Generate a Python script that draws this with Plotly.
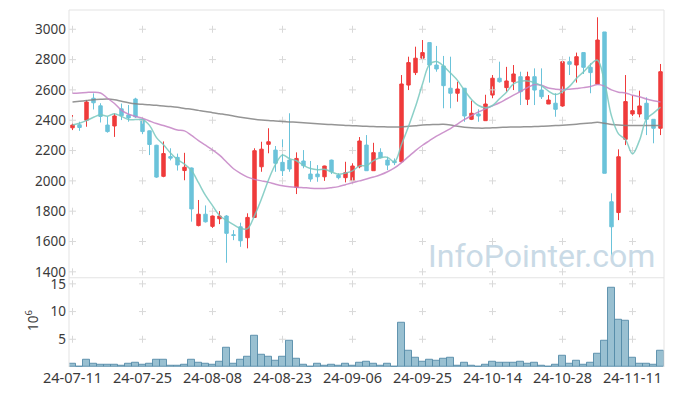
import plotly.graph_objects as go

dates = [
    "24-07-11", "24-07-12", "24-07-15", "24-07-16", "24-07-17", "24-07-18", "24-07-19",
    "24-07-22", "24-07-23", "24-07-24", "24-07-25", "24-07-26", "24-07-29", "24-07-30",
    "24-07-31", "24-08-01", "24-08-02", "24-08-05", "24-08-06", "24-08-07", "24-08-08",
    "24-08-09", "24-08-12", "24-08-13", "24-08-14", "24-08-16", "24-08-19", "24-08-20",
    "24-08-21", "24-08-22", "24-08-23", "24-08-26", "24-08-27", "24-08-28", "24-08-29",
    "24-08-30", "24-09-02", "24-09-03", "24-09-04", "24-09-05", "24-09-06", "24-09-09",
    "24-09-10", "24-09-11", "24-09-12", "24-09-13", "24-09-19", "24-09-20", "24-09-23",
    "24-09-24", "24-09-25", "24-09-26", "24-09-27", "24-09-30", "24-10-02", "24-10-04",
    "24-10-07", "24-10-08", "24-10-10", "24-10-11", "24-10-14", "24-10-15", "24-10-16",
    "24-10-17", "24-10-18", "24-10-21", "24-10-22", "24-10-23", "24-10-24", "24-10-25",
    "24-10-28", "24-10-29", "24-10-30", "24-10-31", "24-11-01", "24-11-04", "24-11-05",
    "24-11-06", "24-11-07", "24-11-08", "24-11-11", "24-11-12", "24-11-13", "24-11-14",
    "24-11-15",
]

opens = [
    2350, 2370, 2400, 2545, 2495, 2368, 2362, 2475, 2435, 2540,
    2405, 2330, 2235, 2030, 2160, 2155, 2068, 2085, 1705, 1780,
    1700, 1750, 1768, 1645, 1697, 1625, 1759, 2093, 2241, 2203,
    2122, 2137, 1957, 2131, 2045, 2045, 2027, 2137, 2038, 2021,
    2001, 2093, 2236, 2067, 2188, 2137, 2130, 2126, 2632, 2714,
    2809, 2912, 2764, 2758, 2611, 2578, 2611, 2406, 2441, 2397,
    2566, 2677, 2615, 2654, 2687, 2538, 2687, 2599, 2507, 2512,
    2494, 2786, 2764, 2846, 2749, 2639, 2982, 1862, 1791, 2274,
    2441, 2441, 2512, 2406, 2347,
]
highs = [
    2434, 2390, 2533, 2577, 2512, 2423, 2445, 2510, 2500, 2548,
    2410, 2332, 2238, 2260, 2215, 2180, 2185, 2088, 1874, 1838,
    1772, 1801, 1774, 1675, 1724, 1786, 2215, 2258, 2347, 2230,
    2274, 2446, 2188, 2203, 2131, 2104, 2100, 2140, 2050, 2126,
    2116, 2289, 2302, 2251, 2215, 2159, 2148, 2698, 2819, 2885,
    2929, 2912, 2890, 2824, 2819, 2654, 2611, 2529, 2472, 2568,
    2698, 2786, 2752, 2764, 2720, 2720, 2742, 2742, 2566, 2578,
    2819, 2819, 2846, 2846, 2776, 3079, 2982, 1918, 2208, 2698,
    2566, 2595, 2551, 2406, 2771,
]
lows = [
    2335, 2330, 2357, 2471, 2385, 2318, 2290, 2401, 2390, 2415,
    2308, 2170, 2020, 2024, 2135, 2068, 2004, 1731, 1700, 1725,
    1690, 1715, 1460, 1609, 1565, 1555, 1755, 2060, 2182, 2060,
    2032, 2060, 1913, 2083, 1994, 1994, 2000, 2045, 2010, 1990,
    1979, 2083, 2067, 2067, 2148, 2071, 2104, 2120, 2599, 2698,
    2802, 2648, 2720, 2479, 2479, 2522, 2390, 2401, 2390, 2397,
    2545, 2648, 2588, 2599, 2500, 2500, 2500, 2540, 2507, 2423,
    2489, 2698, 2648, 2705, 2578, 2639, 2050, 1489, 1741, 2236,
    2428, 2419, 2302, 2248, 2302,
]
closes = [
    2368, 2352, 2520, 2515, 2425, 2325, 2428, 2430, 2415, 2422,
    2325, 2240, 2025, 2180, 2150, 2105, 2090, 1815, 1780, 1730,
    1768, 1768, 1654, 1640, 1605, 1759, 2199, 2209, 2258, 2116,
    2067, 2078, 2148, 2100, 2012, 2027, 2098, 2060, 2021, 2054,
    2098, 2263, 2067, 2186, 2153, 2104, 2120, 2639, 2780, 2809,
    2846, 2764, 2738, 2628, 2578, 2606, 2428, 2446, 2428, 2507,
    2677, 2654, 2659, 2705, 2588, 2687, 2599, 2555, 2533, 2472,
    2786, 2769, 2819, 2749, 2714, 2929, 2050, 1697, 2159, 2523,
    2463, 2494, 2406, 2347, 2720,
]
# volume in millions of shares
volume_m = [
    0.6, 0.1, 1.3, 0.6, 0.4, 0.4, 0.4, 0.25, 0.6, 0.8,
    0.4, 0.6, 1.3, 1.3, 0.25, 0.25, 0.4, 1.3, 0.8, 0.6,
    0.4, 1.0, 3.45, 0.6, 1.3, 1.85, 5.6, 2.2, 1.85, 1.15,
    1.85, 4.7, 1.5, 0.4, 0.1, 0.6, 0.25, 0.4, 0.25, 0.6,
    0.25, 0.8, 1.0, 0.6, 0.25, 0.6, 0.1, 7.9, 2.9, 1.65,
    0.95, 1.3, 1.15, 1.5, 1.65, 0.25, 0.8, 0.25, 0.06, 0.4,
    0.95, 0.8, 0.8, 0.8, 0.95, 0.6, 0.8, 0.25, 0.06, 0.4,
    2.0, 0.6, 1.15, 0.4, 0.8, 2.4, 4.7, 14.3, 8.6, 8.3,
    1.65, 0.6, 0.6, 0.4, 2.9,
]
ma5 = [
    2368, 2380, 2397, 2420, 2436, 2427, 2443, 2425, 2405, 2404,
    2404, 2366, 2285, 2238, 2184, 2140, 2110, 2068, 1988, 1904,
    1837, 1772, 1740, 1712, 1687, 1685, 1771, 1882, 2006, 2108,
    2170, 2146, 2133, 2102, 2081, 2073, 2077, 2059, 2044, 2052,
    2066, 2099, 2101, 2134, 2153, 2155, 2126, 2240, 2359, 2490,
    2639, 2768, 2787, 2757, 2711, 2663, 2596, 2537, 2497, 2483,
    2497, 2542, 2585, 2640, 2657, 2659, 2648, 2627, 2592, 2569,
    2589, 2623, 2676, 2719, 2767, 2796, 2652, 2428, 2310, 2272,
    2178, 2267, 2409, 2447, 2486,
]
ma20 = [
    2578, 2580, 2583, 2585, 2580, 2545, 2510, 2465, 2440, 2425,
    2413, 2395, 2378, 2365, 2350, 2336, 2330, 2300, 2265, 2235,
    2205, 2170, 2125, 2080, 2050, 2025, 2010, 2000, 1990, 1978,
    1968, 1962, 1958, 1955, 1952, 1950, 1950, 1955, 1962, 1975,
    1988, 2000, 2012, 2025, 2040, 2060, 2085, 2120, 2160, 2200,
    2235, 2265, 2295, 2320, 2345, 2375, 2405, 2430, 2455, 2475,
    2495, 2515, 2540, 2565, 2590, 2615, 2635, 2630, 2612, 2605,
    2602, 2605, 2610, 2615, 2622, 2635, 2625, 2600, 2585, 2580,
    2565, 2555, 2540, 2528, 2520,
]
ma60 = [
    2520, 2525, 2530, 2535, 2538, 2540, 2535, 2525, 2515, 2508,
    2505, 2502, 2498, 2494, 2490, 2485, 2478, 2472, 2465, 2458,
    2450, 2443, 2436, 2428, 2420, 2413, 2407, 2402, 2398, 2395,
    2392, 2389, 2386, 2383, 2380, 2377, 2374, 2371, 2368, 2366,
    2364, 2362, 2360, 2358, 2357, 2356, 2355, 2356, 2360, 2364,
    2368, 2370, 2372, 2373, 2368, 2360, 2354, 2350, 2348, 2348,
    2350, 2352, 2354, 2355, 2356, 2357, 2358, 2360, 2362, 2365,
    2367, 2370, 2374, 2378, 2382, 2386, 2380, 2372, 2368, 2366,
    2366, 2366, 2366, 2366, 2366,
]
price_ticks = [1400, 1600, 1800, 2000, 2200, 2400, 2600, 2800, 3000]
volume_ticks = [5, 10, 15]
volume_tick_text = ["5", "10", "15"]
x_tick_labels = dates[::10]
watermark = "InfoPointer.com"

RED = "#ef3b3b"
BLUE = "#6bc3da"
FONT = "Noto Sans, Open Sans, sans-serif"
TICK_COLOR = "#3a3a3a"
TICK_SIZE = 13.5
GRID_MARK = "#d9d9d9"

fig = go.Figure()

fig.add_trace(go.Candlestick(
    x=dates, open=opens, high=highs, low=lows, close=closes,
    xaxis="x", yaxis="y", whiskerwidth=0,
    increasing=dict(line=dict(color=RED, width=1), fillcolor=RED),
    decreasing=dict(line=dict(color=BLUE, width=1), fillcolor=BLUE),
))

fig.add_trace(go.Bar(x=dates, y=volume_m, xaxis="x", yaxis="y2",
                     marker=dict(color="rgba(128,176,198,0.8)",
                                 line=dict(color="rgba(85,140,168,0.9)", width=1))))

# grid crosses at tick intersections
gx, gy = [], []
for xl in x_tick_labels:
    for yv in price_ticks:
        gx.append(xl)
        gy.append(yv)
fig.add_trace(go.Scatter(x=gx, y=gy, mode="markers", xaxis="x", yaxis="y",
                         marker=dict(symbol="cross-thin", size=5,
                                     line=dict(color=GRID_MARK, width=1)),
                         hoverinfo="skip"))
vx, vy = [], []
for xl in x_tick_labels:
    for yv in volume_ticks:
        vx.append(xl)
        vy.append(yv)
fig.add_trace(go.Scatter(x=vx, y=vy, mode="markers", xaxis="x", yaxis="y2",
                         marker=dict(symbol="cross-thin", size=5,
                                     line=dict(color=GRID_MARK, width=1)),
                         hoverinfo="skip"))

fig.add_trace(go.Scatter(x=dates, y=ma60, mode="lines", xaxis="x", yaxis="y",
                         line=dict(color="rgba(130,130,130,0.85)", width=1.5, shape="spline")))
fig.add_trace(go.Scatter(x=dates, y=ma20, mode="lines", xaxis="x", yaxis="y",
                         line=dict(color="rgba(196,130,196,0.85)", width=1.5, shape="spline")))
fig.add_trace(go.Scatter(x=dates, y=ma5, mode="lines", xaxis="x", yaxis="y",
                         line=dict(color="rgba(120,200,190,0.85)", width=1.5, shape="spline")))

FRAME = "#e3e3e3"
shapes = [
    dict(type="line", xref="paper", yref="paper", x0=0, x1=0, y0=0, y1=1,
         line=dict(color=FRAME, width=1)),
    dict(type="line", xref="paper", yref="paper", x0=1, x1=1, y0=0, y1=1,
         line=dict(color=FRAME, width=1)),
    dict(type="line", xref="paper", yref="paper", x0=0, x1=1, y0=1, y1=1,
         line=dict(color=FRAME, width=1)),
    dict(type="line", xref="paper", yref="paper", x0=0, x1=1, y0=0.25, y1=0.25,
         line=dict(color=FRAME, width=1)),
]

# the page body adds an 8 px offset, so the figure is 8 px smaller and shifted
fig.update_layout(
    width=665, height=388,
    margin=dict(l=61, r=9, t=2, b=29),
    paper_bgcolor="white", plot_bgcolor="white",
    showlegend=False, bargap=0,
    font=dict(family=FONT, size=TICK_SIZE, color=TICK_COLOR),
    shapes=shapes,
    xaxis=dict(type="category", categoryorder="array", categoryarray=dates,
               range=[-0.5, len(dates) - 0.5],
               tickmode="array", tickvals=x_tick_labels, ticktext=x_tick_labels,
               tickangle=0, automargin=False,
               showgrid=False, zeroline=False, showline=False, ticks="",
               anchor="y2", rangeslider=dict(visible=False),
               tickfont=dict(family=FONT, size=14.5, color=TICK_COLOR)),
    yaxis=dict(domain=[0.25, 1], range=[1361, 3127], automargin=False,
               tickmode="array", tickvals=price_ticks, ticklabelstandoff=2,
               showgrid=False, zeroline=False, showline=False, ticks="",
               tickfont=dict(family=FONT, size=TICK_SIZE, color=TICK_COLOR)),
    yaxis2=dict(domain=[0, 0.25], range=[0, 16.1], automargin=False,
                tickmode="array", tickvals=volume_ticks, ticktext=volume_tick_text,
                ticklabelstandoff=2,
                showgrid=False, zeroline=False, showline=False, ticks="",
                tickfont=dict(family=FONT, size=TICK_SIZE, color=TICK_COLOR)),
    annotations=[
        dict(text="10<sup>6</sup>", xref="paper", yref="paper",
             x=-0.062, y=0.129, xanchor="center", yanchor="middle",
             showarrow=False, textangle=-90,
             font=dict(family=FONT, size=TICK_SIZE, color=TICK_COLOR)),
        dict(text=watermark, xref="paper", yref="paper",
             x=0.988, y=0.311, xanchor="right", yanchor="middle",
             showarrow=False,
             font=dict(family="Roboto, sans-serif", size=32, color="#c9dae6")),
    ],
)

fig.write_html("out.html")
